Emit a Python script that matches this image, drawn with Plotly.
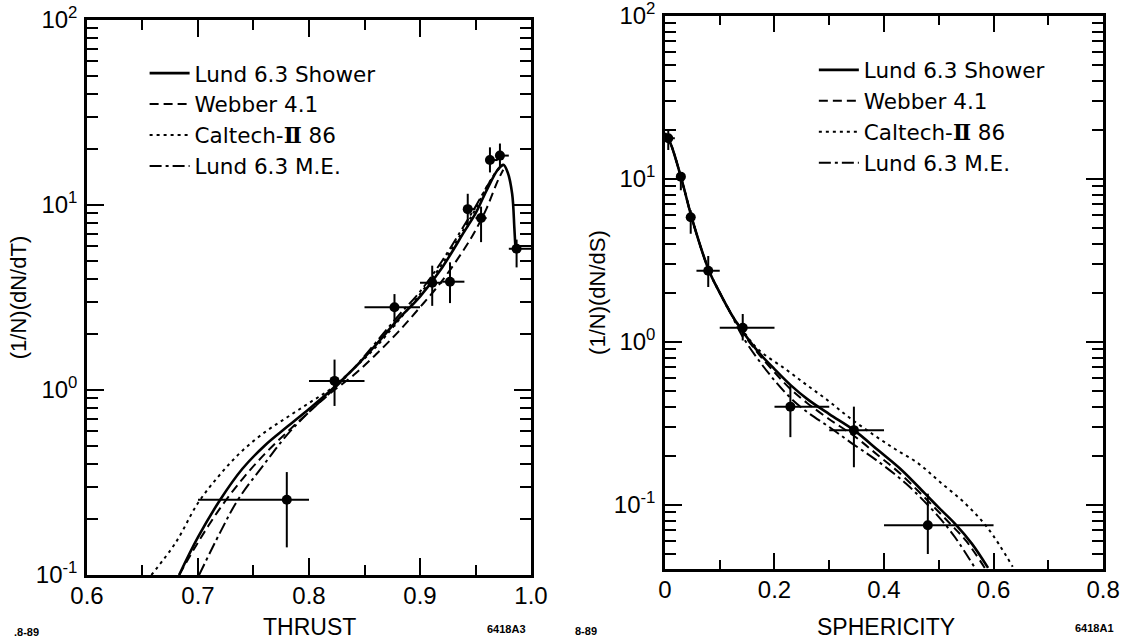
import numpy as np
import plotly.graph_objects as go

# ---------------- Thrust distribution ----------------
thrust_x = [0.780, 0.823, 0.877, 0.911, 0.927, 0.943, 0.955, 0.963, 0.972, 0.987]
thrust_y = [0.255, 1.12, 2.8, 3.8, 3.85, 9.5, 8.5, 17.5, 18.5, 5.8]
thrust_y_hi = [0.36, 1.46, 3.3, 4.7, 4.9, 11.5, 9.8, 20.5, 21.5, 6.5]
thrust_y_lo = [0.141, 0.82, 2.2, 2.85, 2.95, 7.6, 6.3, 15.0, 16.0, 4.6]
thrust_x_lo = [0.70, 0.80, 0.85, 0.90, 0.92, 0.94, 0.95, 0.96, 0.97, 0.98]
thrust_x_hi = [0.80, 0.85, 0.90, 0.92, 0.94, 0.95, 0.96, 0.97, 0.98, 1.00]

t_shower_x = [0.683, 0.70, 0.72, 0.74, 0.76, 0.78, 0.80, 0.82, 0.84, 0.86, 0.88, 0.90,
              0.92, 0.94, 0.95, 0.96, 0.97, 0.975, 0.979, 0.983, 0.985, 0.986]
t_shower_y = [0.10, 0.16, 0.255, 0.375, 0.50, 0.63, 0.79, 1.0, 1.3, 1.75, 2.4, 3.2,
              4.6, 7.2, 9.0, 12.0, 15.5, 16.5, 15.0, 11.5, 7.5, 5.8]
t_webber_x = [0.683, 0.70, 0.72, 0.74, 0.76, 0.78, 0.80, 0.82, 0.84, 0.86, 0.88, 0.90,
              0.92, 0.94, 0.95, 0.96, 0.97, 0.975]
t_webber_y = [0.10, 0.15, 0.23, 0.33, 0.45, 0.59, 0.76, 0.97, 1.2, 1.55, 2.05, 2.8,
              3.9, 5.8, 7.3, 9.6, 13.5, 15.5]
t_caltech_x = [0.658, 0.68, 0.70, 0.72, 0.74, 0.76, 0.78, 0.80, 0.82, 0.84, 0.86, 0.88,
               0.90, 0.92, 0.94, 0.95, 0.96, 0.97, 0.975]
t_caltech_y = [0.10, 0.15, 0.245, 0.35, 0.47, 0.59, 0.71, 0.85, 1.02, 1.3, 1.7, 2.35,
               3.3, 4.8, 7.5, 9.5, 12.5, 15.5, 16.5]
t_me_x = [0.701, 0.72, 0.736, 0.76, 0.78, 0.80, 0.82, 0.84, 0.86, 0.88, 0.90, 0.92,
          0.94, 0.95, 0.96, 0.97, 0.975]
t_me_y = [0.10, 0.17, 0.255, 0.40, 0.57, 0.76, 0.98, 1.3, 1.8, 2.5, 3.4, 5.0,
          7.8, 9.8, 12.5, 15.5, 16.5]

# ---------------- Sphericity distribution ----------------
spher_x = [0.006, 0.029, 0.047, 0.079, 0.142, 0.229, 0.345, 0.480]
spher_y = [17.7, 10.3, 5.8, 2.73, 1.22, 0.40, 0.287, 0.075]
spher_y_hi = [20.0, 11.0, 6.4, 3.36, 1.48, 0.54, 0.40, 0.117]
spher_y_lo = [15.0, 8.5, 4.6, 2.17, 1.02, 0.26, 0.17, 0.050]
spher_x_lo = [0.0, 0.02, 0.04, 0.0575, 0.10, 0.20, 0.30, 0.40]
spher_x_hi = [0.018, 0.037, 0.055, 0.10, 0.20, 0.30, 0.40, 0.60]

s_shower_x = [0.0, 0.01, 0.03, 0.05, 0.08, 0.10, 0.12, 0.14, 0.17, 0.20, 0.23, 0.26,
              0.30, 0.345, 0.39, 0.4325, 0.475, 0.50, 0.529, 0.56, 0.59]
s_shower_y = [19.0, 16.5, 10.0, 5.6, 2.75, 2.0, 1.5, 1.18, 0.87, 0.68, 0.54, 0.445,
              0.36, 0.287, 0.215, 0.163, 0.117, 0.096, 0.077, 0.058, 0.041]
s_webber_x = [0.0, 0.01, 0.03, 0.05, 0.08, 0.10, 0.12, 0.14, 0.17, 0.20, 0.23, 0.26,
              0.30, 0.345, 0.39, 0.43, 0.475, 0.52, 0.55, 0.584]
s_webber_y = [19.0, 16.5, 10.0, 5.6, 2.75, 2.0, 1.5, 1.16, 0.85, 0.65, 0.51, 0.42,
              0.335, 0.265, 0.20, 0.155, 0.11, 0.077, 0.06, 0.041]
s_caltech_x = [0.0, 0.01, 0.03, 0.05, 0.08, 0.10, 0.12, 0.14, 0.17, 0.22, 0.26, 0.30,
               0.336, 0.38, 0.42, 0.463, 0.50, 0.548, 0.59, 0.635]
s_caltech_y = [19.0, 16.5, 10.0, 5.6, 2.75, 2.0, 1.5, 1.2, 0.90, 0.68, 0.54, 0.43,
               0.344, 0.27, 0.22, 0.179, 0.14, 0.102, 0.0716, 0.0417]
s_me_x = [0.0, 0.01, 0.03, 0.05, 0.08, 0.10, 0.12, 0.14, 0.17, 0.20, 0.23, 0.26,
          0.30, 0.34, 0.384, 0.44, 0.499, 0.53, 0.566]
s_me_y = [19.0, 16.5, 10.0, 5.6, 2.75, 2.0, 1.5, 1.1, 0.78, 0.58, 0.45, 0.37,
          0.30, 0.24, 0.19, 0.135, 0.085, 0.063, 0.041]

model_names = ["Lund 6.3 Shower", "Webber 4.1",
               "Caltech-<span style=\"font-family:DejaVu Serif\"><b>Ⅱ</b></span> 86",
               "Lund 6.3 M.E."]
model_dash = ["solid", "9px,5px", "3px,4px", "12px,4px,3px,4px"]
model_width = [2.6, 2.0, 2.0, 2.0]

FONT = "Liberation Sans, Arial, sans-serif"
LEGEND_FONT = "DejaVu Sans, Verdana, sans-serif"
INK = "black"

fig = go.Figure()

thrust_curves = [(t_shower_x, t_shower_y), (t_webber_x, t_webber_y),
                 (t_caltech_x, t_caltech_y), (t_me_x, t_me_y)]
spher_curves = [(s_shower_x, s_shower_y), (s_webber_x, s_webber_y),
                (s_caltech_x, s_caltech_y), (s_me_x, s_me_y)]

for i, (cx, cy) in enumerate(thrust_curves):
    fig.add_trace(go.Scatter(
        x=cx, y=cy, mode="lines", name=model_names[i], legend="legend",
        line=dict(color=INK, width=model_width[i], dash=model_dash[i], shape="spline"),
        xaxis="x", yaxis="y"))

for i, (cx, cy) in enumerate(spher_curves):
    fig.add_trace(go.Scatter(
        x=cx, y=cy, mode="lines", name=model_names[i], legend="legend2",
        line=dict(color=INK, width=model_width[i], dash=model_dash[i], shape="spline"),
        xaxis="x2", yaxis="y2"))


def data_trace(x, y, xlo, xhi, ylo, yhi, xa, ya):
    x = np.array(x); y = np.array(y)
    return go.Scatter(
        x=x, y=y, mode="markers", showlegend=False,
        marker=dict(color=INK, size=10),
        error_x=dict(type="data", symmetric=False, array=np.array(xhi) - x,
                     arrayminus=x - np.array(xlo), color=INK, thickness=2, width=0),
        error_y=dict(type="data", symmetric=False, array=np.array(yhi) - y,
                     arrayminus=y - np.array(ylo), color=INK, thickness=2, width=0),
        xaxis=xa, yaxis=ya)


fig.add_trace(data_trace(thrust_x, thrust_y, thrust_x_lo, thrust_x_hi,
                         thrust_y_lo, thrust_y_hi, "x", "y"))
fig.add_trace(data_trace(spher_x, spher_y, spher_x_lo, spher_x_hi,
                         spher_y_lo, spher_y_hi, "x2", "y2"))


def log_minor(lo_exp, hi_exp):
    vals = []
    for e in range(lo_exp, hi_exp):
        for m in range(2, 10):
            vals.append(m * 10.0 ** e)
    return vals


decade_vals = [0.1, 1, 10, 100]
decade_text = ["10<sup>-1</sup>", "10<sup>0</sup>", "10<sup>1</sup>", "10<sup>2</sup>"]

axis_common = dict(showline=True, linecolor=INK, linewidth=2.5, mirror="ticks",
                   ticks="inside", tickcolor=INK, tickwidth=2, showgrid=False,
                   zeroline=False, automargin=False, ticklabeloverflow="allow",
                   tickfont=dict(family=FONT, size=24, color=INK))

fig.update_layout(
    width=1121, height=642,
    margin=dict(l=0, r=0, t=0, b=0, pad=0, autoexpand=False),
    paper_bgcolor="white", plot_bgcolor="white",
    font=dict(family=FONT, color=INK),
    xaxis=dict(domain=[0.0776, 0.4737], range=[0.6, 1.0], tickvals=[0.6, 0.7, 0.8, 0.9, 1.0],
               ticktext=["0.6", "0.7", "0.8", "0.9", "1.0"], ticklen=17,
               ticklabelstandoff=-3,
               minor=dict(ticks="inside", tickvals=[0.65, 0.75, 0.85, 0.95], ticklen=10,
                          tickcolor=INK, tickwidth=2),
               anchor="y", **axis_common),
    yaxis=dict(domain=[0.1044, 0.9688], type="log", range=[-1, 2],
               tickvals=decade_vals, ticktext=decade_text, ticklen=17,
               ticklabelstandoff=2,
               minor=dict(ticks="inside", tickvals=log_minor(-1, 2), ticklen=11,
                          tickcolor=INK, tickwidth=2),
               title=dict(text="(1/N)(dN/dT)", font=dict(family=FONT, size=22), standoff=4),
               anchor="x", **axis_common),
    xaxis2=dict(domain=[0.5932, 0.984], range=[0, 0.8], tickvals=[0, 0.2, 0.4, 0.6, 0.8],
                ticktext=["0", "0.2", "0.4", "0.6", "0.8"], ticklen=17,
                ticklabelstandoff=-3,
                minor=dict(ticks="inside", tickvals=[0.1, 0.3, 0.5, 0.7], ticklen=10,
                           tickcolor=INK, tickwidth=2),
                anchor="y2", **axis_common),
    yaxis2=dict(domain=[0.1132, 0.9755], type="log", range=[np.log10(0.0402), 2],
                tickvals=decade_vals, ticktext=decade_text, ticklen=17,
                ticklabelstandoff=2,
                minor=dict(ticks="inside", tickvals=log_minor(-2, 2), ticklen=11,
                           tickcolor=INK, tickwidth=2),
                title=dict(text="(1/N)(dN/dS)", font=dict(family=FONT, size=22), standoff=3),
                anchor="x2", **axis_common),
    legend=dict(x=0.129, y=0.918, xanchor="left", yanchor="top",
                bgcolor="rgba(0,0,0,0)", font=dict(family=LEGEND_FONT, size=21.5, color=INK),
                tracegroupgap=0, itemwidth=40),
    legend2=dict(x=0.726, y=0.923, xanchor="left", yanchor="top",
                 bgcolor="rgba(0,0,0,0)", font=dict(family=LEGEND_FONT, size=21.5, color=INK),
                 tracegroupgap=0, itemwidth=40),
)

annotations = [
    dict(text="THRUST", x=0.2757, y=1 - 627 / 642, font=dict(size=23)),
    dict(text="SPHERICITY", x=0.79, y=1 - 627 / 642, font=dict(size=23)),
    dict(text="<b>.8-89</b>", x=0.024, y=1 - 632 / 642, font=dict(size=11)),
    dict(text="<b>6418A3</b>", x=0.452, y=1 - 629 / 642, font=dict(size=11)),
    dict(text="<b>8-89</b>", x=0.523, y=1 - 631 / 642, font=dict(size=11)),
    dict(text="<b>6418A1</b>", x=0.976, y=1 - 628 / 642, font=dict(size=11)),
]
for a in annotations:
    a.update(xref="paper", yref="paper", showarrow=False, xanchor="center",
             yanchor="middle")
    a["font"].update(family=FONT, color=INK)
    fig.add_annotation(**a)

fig.write_html("out.html")
